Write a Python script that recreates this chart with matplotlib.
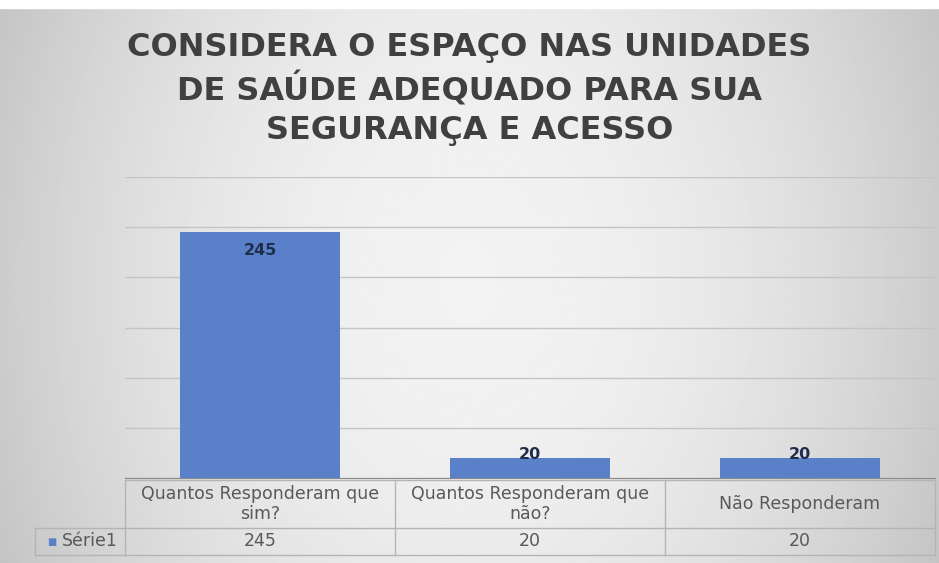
import matplotlib
matplotlib.use('Agg')
import matplotlib.pyplot as plt
import matplotlib.transforms as mtransforms
import numpy as np

categories = ["Quantos Responderam que\nsim?", "Quantos Responderam que\nnão?", "Não Responderam"]
values = [245, 20, 20]
series_name = "Série1"
title = "CONSIDERA O ESPAÇO NAS UNIDADES\nDE SAÚDE ADEQUADO PARA SUA\nSEGURANÇA E ACESSO"

bar_color = "#5a80c9"
text_color = "#595959"
grid_color = "#c4c4c4"
line_color = "#b4b4b4"

fig = plt.figure(figsize=(9.39, 5.63), dpi=100)

# gray gradient background, lighter in the middle
bg = fig.add_axes([0, 0, 1, 1], zorder=-10)
xx = np.linspace(-1, 1, 400)
yy = np.linspace(-1, 1, 240)
X, Y = np.meshgrid(xx, yy)
grad = 0.95 - 0.15 * (X ** 2) - 0.03 * (Y ** 2)
bg.imshow(grad, cmap="gray", vmin=0, vmax=1, aspect="auto", extent=[0, 1, 0, 1])
bg.axhspan(1 - 8 / 563, 1, color="white")
bg.set_xlim(0, 1)
bg.set_ylim(0, 1)
bg.axis("off")

fig.text(0.5, 1 - 89 / 563, title, ha="center", va="center", fontsize=23,
         fontweight="bold", family="DejaVu Sans", color="#404040", linespacing=1.32)

ax = fig.add_axes([125 / 939, 85 / 563, 810 / 939, 301 / 563])
ax.patch.set_alpha(0)
x = np.arange(len(values))
bars = ax.bar(x, values, width=0.59, color=bar_color, zorder=3)
ax.set_xlim(-0.5, len(values) - 0.5)
ax.set_ylim(0, 300)
ax.set_yticks(np.arange(0, 301, 50))
ax.yaxis.grid(True, color=grid_color, linewidth=1)
ax.set_axisbelow(True)
ax.tick_params(left=False, labelleft=False, bottom=False, labelbottom=False)
for s in ["left", "right", "top"]:
    ax.spines[s].set_visible(False)
ax.spines["bottom"].set_color("#8a8a8a")

for b, v in zip(bars, values):
    if v > 100:
        ax.text(b.get_x() + b.get_width() / 2, v - 18, str(v), ha="center", va="center",
                fontsize=11.5, fontweight="bold", color="#1f2d4d", zorder=4)
    else:
        ax.text(b.get_x() + b.get_width() / 2, v + 3, str(v), ha="center", va="center",
                fontsize=11.5, fontweight="bold", color="#1f2d4d", zorder=4)

# data table under the chart
tr = mtransforms.blended_transform_factory(ax.transData, ax.transAxes)
y_top = -2 / 301
y_mid = -50 / 301
y_bot = -77 / 301
x_edges = np.arange(len(values) + 1) - 0.5
x_lab = -0.5 - 90 / 270
kw = dict(transform=tr, color=line_color, linewidth=1, clip_on=False)
for xe in x_edges:
    ax.plot([xe, xe], [y_top, y_bot], **kw)
ax.plot([x_edges[0], x_edges[-1]], [y_top, y_top], **kw)
ax.plot([x_lab, x_edges[-1]], [y_mid, y_mid], **kw)
ax.plot([x_lab, x_edges[-1]], [y_bot, y_bot], **kw)
ax.plot([x_lab, x_lab], [y_mid, y_bot], **kw)

for xi, cat, v in zip(x, categories, values):
    ax.text(xi, (y_top + y_mid) / 2, cat, transform=tr, ha="center", va="center",
            fontsize=12.5, color=text_color, linespacing=1.2)
    ax.text(xi, (y_mid + y_bot) / 2, str(v), transform=tr, ha="center", va="center",
            fontsize=12.5, color=text_color)

ax.text(x_lab + 0.044, (y_mid + y_bot) / 2, "■", transform=tr, ha="left", va="center",
        fontsize=7, color=bar_color)
ax.text(x_lab + 0.1, (y_mid + y_bot) / 2, series_name, transform=tr, ha="left", va="center",
        fontsize=12.5, color=text_color)

fig.savefig("out.png", dpi=100)
